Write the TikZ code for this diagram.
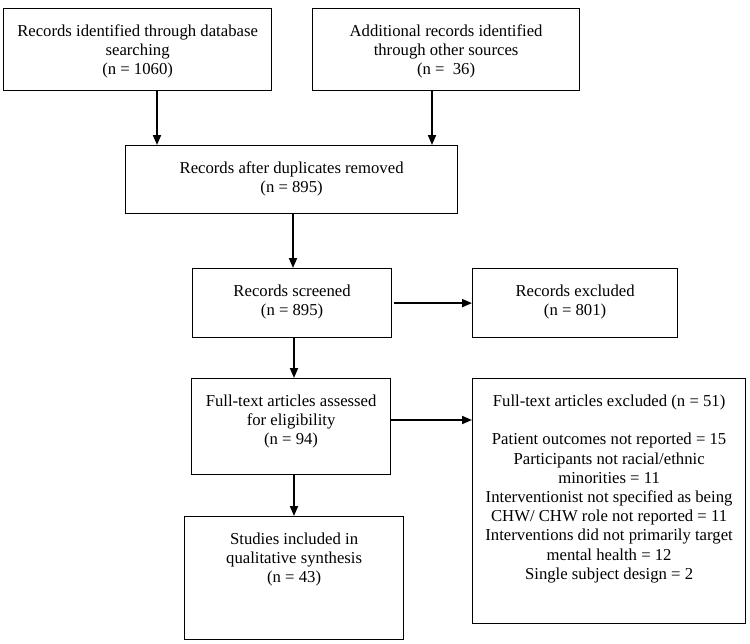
\documentclass[tikz,border=0pt]{standalone}
\usepackage{fontspec}
\setmainfont{Liberation Serif}
\usetikzlibrary{arrows.meta}
\newcommand{\bxtext}[3]{\parbox[c][#2][t]{#1}{\centering\vspace*{14.5pt}\strut #3}}
\begin{document}
\begin{tikzpicture}[x=1pt,y=-1pt,
  box/.style={draw=black, line width=1.2pt, inner sep=0pt, anchor=north west,
    font=\fontsize{16.7}{19.2}\selectfont},
  arr/.style={line width=1.8pt, -{Triangle[length=10pt,width=8pt]}}]
\useasboundingbox (0,0) rectangle (750,643);
\node[box] (b1) at (3,8) {\bxtext{268pt}{82pt}{Records identified through database\\searching\\(n = 1060)}};
\node[box] (b2) at (312,8) {\bxtext{267pt}{82pt}{Additional records identified\\through other sources\\(n = \ 36)}};
\node[box] (b3) at (125,145) {\bxtext{332pt}{68pt}{Records after duplicates removed\\(n = 895)}};
\node[box] (b4) at (192,268) {\bxtext{199pt}{69pt}{Records screened\\(n = 895)}};
\node[box] (b5) at (472,268) {\bxtext{205pt}{69pt}{Records excluded\\(n = 801)}};
\node[box] (b6) at (191,378) {\bxtext{199pt}{96pt}{Full-text articles assessed\\for eligibility\\(n = 94)}};
\node[box] (b7) at (472,378) {\bxtext{273pt}{245pt}{Full-text articles excluded (n = 51)\\[19.2pt]Patient outcomes not reported = 15\\Participants not racial/ethnic\\minorities = 11\\Interventionist not specified as being\\CHW/ CHW role not reported = 11\\Interventions did not primarily target\\mental health = 12\\Single subject design = 2}};
\node[box] (b8) at (184,516) {\bxtext{219pt}{123pt}{Studies included in\\qualitative synthesis\\(n = 43)}};
\coordinate (xa) at (157,0);
\coordinate (xb) at (432,0);
\coordinate (xc) at (293,0);
\coordinate (xd) at (294,0);
\coordinate (ya) at (0,420);
\draw[arr] (b1.south -| xa) -- (b3.north -| xa);
\draw[arr] (b2.south -| xb) -- (b3.north -| xb);
\draw[arr] (b3.south -| xc) -- (b4.north -| xc);
\draw[arr] (b4.south -| xd) -- (b6.north -| xd);
\draw[arr, shorten <=2pt] (b4.east) -- (b5.west);
\draw[arr] (b6.east |- ya) -- (b7.west |- ya);
\draw[arr] (b6.south -| xd) -- (b8.north -| xd);
\end{tikzpicture}
\end{document}
